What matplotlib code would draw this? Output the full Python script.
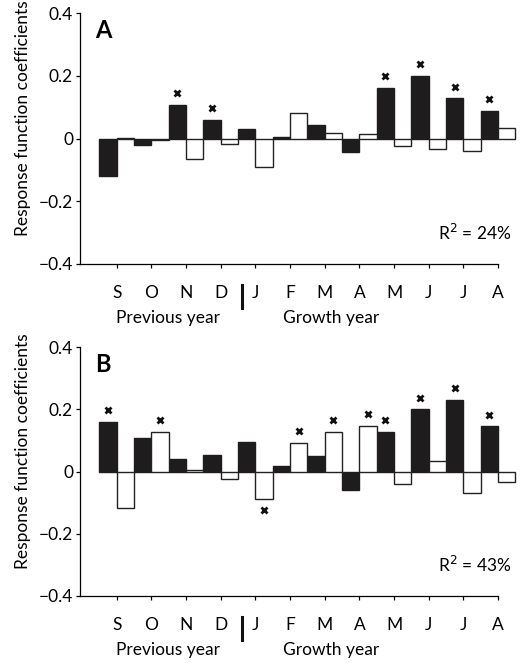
import matplotlib
matplotlib.use("Agg")
import matplotlib.pyplot as plt
import matplotlib.transforms as mtransforms

plt.rcParams['font.family'] = ['Lato', 'DejaVu Sans']

months = ["S", "O", "N", "D", "J", "F", "M", "A", "M", "J", "J", "A"]

# Panel A
a_black = [-0.120, -0.021, 0.107, 0.059, 0.029, 0.004, 0.043, -0.043, 0.161, 0.200, 0.128, 0.089]
a_white = [0.001, -0.006, -0.066, -0.016, -0.091, 0.080, 0.018, 0.013, -0.023, -0.034, -0.040, 0.035]
a_sig_black = [False, False, True, True, False, False, False, False, True, True, True, True]
a_sig_white = [False] * 12
a_r2 = "24%"

# Panel B
b_black = [0.159, 0.109, 0.040, 0.052, 0.095, 0.018, 0.049, -0.058, 0.128, 0.200, 0.231, 0.146]
b_white = [-0.116, 0.128, 0.005, -0.023, -0.088, 0.093, 0.128, 0.147, -0.041, 0.035, -0.069, -0.035]
b_sig_black = [True, False, False, False, False, False, False, False, True, True, True, True]
b_sig_white = [False, True, False, False, True, True, True, True, False, False, False, False]
b_r2 = "43%"

yticks = [-0.4, -0.2, 0.0, 0.2, 0.4]
ytick_labels = ["\u22120.4", "\u22120.2", "0", "0.2", "0.4"]

W, H = 527, 663
fig = plt.figure(figsize=(W / 100, H / 100), dpi=100)

BAR = "#1e1c1d"
FS = 12.5


def panel(rect, label, black, white, sig_b, sig_w, r2):
    ax = fig.add_axes(rect)
    x = list(range(1, 13))
    xb = [i - 0.25 for i in x]
    xw = [i + 0.25 for i in x]
    ax.bar(xb, black, width=0.5, color=BAR, edgecolor=BAR, linewidth=1.0, clip_on=False, zorder=2)
    ax.bar(xw, white, width=0.5, color="white", edgecolor="#222222", linewidth=1.0, clip_on=False, zorder=2)
    off = 0.037
    for xi, v, s in zip(xb, black, sig_b):
        if s:
            ax.plot(xi, v + off if v >= 0 else v - off, marker="x", color="#111111",
                    markersize=4.5, markeredgewidth=2.0, clip_on=False, zorder=3)
    for xi, v, s in zip(xw, white, sig_w):
        if s:
            ax.plot(xi, v + off if v >= 0 else v - off, marker="x", color="#111111",
                    markersize=4.5, markeredgewidth=2.0, clip_on=False, zorder=3)
    ax.set_xlim(-0.06, 12.0)
    ax.set_ylim(-0.4, 0.4)
    ax.set_yticks(yticks)
    ax.set_yticklabels(ytick_labels, fontsize=FS)
    ax.set_xticks(x)
    ax.set_xticklabels(months, fontsize=FS)
    ax.tick_params(axis="x", direction="out", length=3, width=0.9, pad=12)
    ax.tick_params(axis="y", direction="out", length=3, width=0.9, pad=2)
    for sp in ["top", "right"]:
        ax.spines[sp].set_visible(False)
    for sp in ["left", "bottom"]:
        ax.spines[sp].set_linewidth(0.9)
    ax.set_ylabel("Response function coefficients", fontsize=FS)
    ax.yaxis.set_label_coords(-0.118, 0.58)
    ax.text(0.035, 0.93, label, transform=ax.transAxes, fontsize=17, fontweight="bold",
            ha="left", va="center")
    ax.text(12.4, -0.30, "R$^2$ = " + r2, fontsize=FS, ha="right", va="center")
    trans = mtransforms.blended_transform_factory(ax.transData, ax.transAxes)
    ax.text(2.48, -0.215, "Previous year", transform=trans, fontsize=FS, ha="center", va="center")
    ax.text(7.18, -0.215, "Growth year", transform=trans, fontsize=FS, ha="center", va="center")
    ax.plot([4.6, 4.6], [-0.084, -0.175], transform=trans, color="#111111", linewidth=2.2,
            clip_on=False)
    return ax


panel([80 / W, 1 - 264 / H, 418 / W, 251 / H], "A", a_black, a_white, a_sig_black, a_sig_white, a_r2)
panel([80 / W, 1 - 596 / H, 418 / W, 249 / H], "B", b_black, b_white, b_sig_black, b_sig_white, b_r2)

fig.savefig("out.png", dpi=100)
